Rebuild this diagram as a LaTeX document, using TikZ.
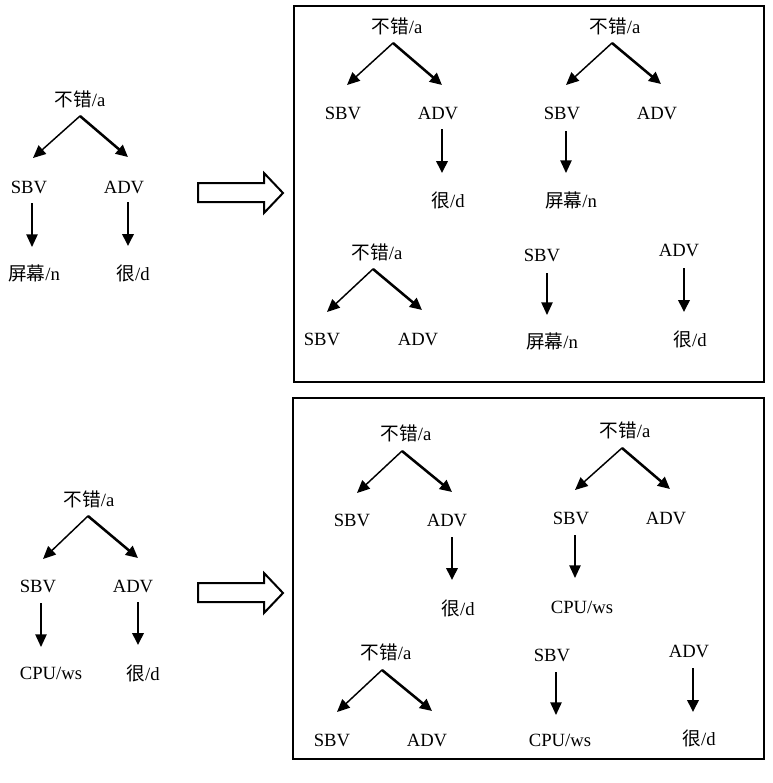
\documentclass[tikz,border=0pt]{standalone}
\usepackage{fontspec}
\setmainfont{Liberation Serif}
\newfontfamily\cjk{Noto Sans CJK SC}
\usetikzlibrary{arrows.meta}
\tikzset{
  lbl/.style={inner sep=0pt, font=\fontsize{14}{16}\selectfont},
  thinarr/.style={line width=1.1pt, -{Triangle[length=9.5pt,width=8.5pt]}},
  thickarr/.style={line width=1.9pt, -{Triangle[length=9pt,width=8.5pt]}},
  boxframe/.style={draw, line width=1.1pt},
  blockarr/.style={draw, line width=1.5pt, line join=miter}
}
\newcommand{\bcword}{{\cjk 不错}/a}
\newcommand{\hdword}{{\cjk 很}/d}
\newcommand{\pmword}{{\cjk 屏幕}/n}
\begin{document}
\begin{tikzpicture}[x=0.75pt,y=-0.75pt]
\useasboundingbox (0,0) rectangle (773,783);

% ---------- top-left tree ----------
\node[lbl] (r1) at (80,99) {\bcword};
\coordinate (a1) at (80,116);
\coordinate (t1l) at (33,158); \coordinate (t1r) at (128,157);
\node[lbl] (s1) at (29,187) {SBV};
\node[lbl] (d1) at (124,187) {ADV};
\coordinate (s1b) at (32,203); \coordinate (s1e) at (32,247);
\coordinate (d1b) at (128,202); \coordinate (d1e) at (128,246);
\node[lbl] (l1) at (34,273) {\pmword};
\node[lbl] (h1) at (133,273) {\hdword};
\draw[thinarr] (a1) -- (t1l);
\draw[thickarr] (a1) -- (t1r);
\draw[thinarr] (s1b) -- (s1e);
\draw[thickarr] (d1b) -- (d1e);

% block arrow top
\draw[blockarr] (198,183) -- (264,183) -- (264,173) -- (283,193) -- (264,213) -- (264,202) -- (198,202) -- cycle;

% ---------- top box ----------
\draw[boxframe] (294,6) rectangle (764,382);
% tree A
\node[lbl] (rA) at (397,26) {\bcword};
\coordinate (aA) at (393,43);
\coordinate (tAl) at (347,85); \coordinate (tAr) at (442,85);
\node[lbl] (sA) at (343,113) {SBV};
\node[lbl] (dA) at (438,113) {ADV};
\coordinate (dAb) at (442,129); \coordinate (dAe) at (442,173);
\node[lbl] (hA) at (448,200) {\hdword};
\draw[thinarr] (aA) -- (tAl);
\draw[thickarr] (aA) -- (tAr);
\draw[thickarr] (dAb) -- (dAe);
% tree B
\node[lbl] (rB) at (615,26) {\bcword};
\coordinate (aB) at (612,43);
\coordinate (tBl) at (566,85); \coordinate (tBr) at (661,84);
\node[lbl] (sB) at (562,113) {SBV};
\node[lbl] (dB) at (657,113) {ADV};
\coordinate (sBb) at (566,131); \coordinate (sBe) at (566,173);
\node[lbl] (lB) at (571,200) {\pmword};
\draw[thinarr] (aB) -- (tBl);
\draw[thickarr] (aB) -- (tBr);
\draw[thinarr] (sBb) -- (sBe);
% tree C
\node[lbl] (rC) at (377,252) {\bcword};
\coordinate (aC) at (373,269);
\coordinate (tCl) at (327,312); \coordinate (tCr) at (422,310);
\node[lbl] (sC) at (322,339) {SBV};
\node[lbl] (dC) at (418,339) {ADV};
\draw[thinarr] (aC) -- (tCl);
\draw[thickarr] (aC) -- (tCr);
% D
\node[lbl] (sD) at (542,255) {SBV};
\coordinate (sDb) at (547,273); \coordinate (sDe) at (547,315);
\node[lbl] (lD) at (552,341) {\pmword};
\draw[thinarr] (sDb) -- (sDe);
% E
\node[lbl] (dE) at (679,250) {ADV};
\coordinate (dEb) at (684,268); \coordinate (dEe) at (684,312);
\node[lbl] (hE) at (690,339) {\hdword};
\draw[thickarr] (dEb) -- (dEe);

% ---------- bottom-left tree ----------
\node[lbl] (r2) at (89,499) {\bcword};
\coordinate (a2) at (88,516);
\coordinate (t2l) at (43,559); \coordinate (t2r) at (138,558);
\node[lbl] (s2) at (38,586) {SBV};
\node[lbl] (d2) at (133,586) {ADV};
\coordinate (s2b) at (41,603); \coordinate (s2e) at (41,647);
\coordinate (d2b) at (138,602); \coordinate (d2e) at (138,645);
\node[lbl] (l2) at (51,673) {CPU/ws};
\node[lbl] (h2) at (143,673) {\hdword};
\draw[thinarr] (a2) -- (t2l);
\draw[thickarr] (a2) -- (t2r);
\draw[thinarr] (s2b) -- (s2e);
\draw[thickarr] (d2b) -- (d2e);

% block arrow bottom
\draw[blockarr] (198,583) -- (264,583) -- (264,573) -- (283,593) -- (264,613) -- (264,602) -- (198,602) -- cycle;

% ---------- bottom box ----------
\draw[boxframe] (293,398) rectangle (764,759);
% tree A
\node[lbl] (rF) at (406,433) {\bcword};
\coordinate (aF) at (402,451);
\coordinate (tFl) at (357,493); \coordinate (tFr) at (452,492);
\node[lbl] (sF) at (352,520) {SBV};
\node[lbl] (dF) at (447,520) {ADV};
\coordinate (dFb) at (452,537); \coordinate (dFe) at (452,580);
\node[lbl] (hF) at (458,608) {\hdword};
\draw[thinarr] (aF) -- (tFl);
\draw[thickarr] (aF) -- (tFr);
\draw[thickarr] (dFb) -- (dFe);
% tree B
\node[lbl] (rG) at (625,430) {\bcword};
\coordinate (aG) at (622,448);
\coordinate (tGl) at (575,490); \coordinate (tGr) at (670,489);
\node[lbl] (sG) at (571,518) {SBV};
\node[lbl] (dG) at (666,518) {ADV};
\coordinate (sGb) at (575,535); \coordinate (sGe) at (575,578);
\node[lbl] (lG) at (582,607) {CPU/ws};
\draw[thinarr] (aG) -- (tGl);
\draw[thickarr] (aG) -- (tGr);
\draw[thinarr] (sGb) -- (sGe);
% tree C
\node[lbl] (rH) at (386,652) {\bcword};
\coordinate (aH) at (382,670);
\coordinate (tHl) at (337,712); \coordinate (tHr) at (432,711);
\node[lbl] (sH) at (332,740) {SBV};
\node[lbl] (dH) at (427,740) {ADV};
\draw[thinarr] (aH) -- (tHl);
\draw[thickarr] (aH) -- (tHr);
% D
\node[lbl] (sI) at (552,655) {SBV};
\coordinate (sIb) at (556,672); \coordinate (sIe) at (556,715);
\node[lbl] (lI) at (560,740) {CPU/ws};
\draw[thinarr] (sIb) -- (sIe);
% E
\node[lbl] (dJ) at (689,651) {ADV};
\coordinate (dJb) at (693,668); \coordinate (dJe) at (693,712);
\node[lbl] (hJ) at (699,738) {\hdword};
\draw[thickarr] (dJb) -- (dJe);
\end{tikzpicture}
\end{document}
